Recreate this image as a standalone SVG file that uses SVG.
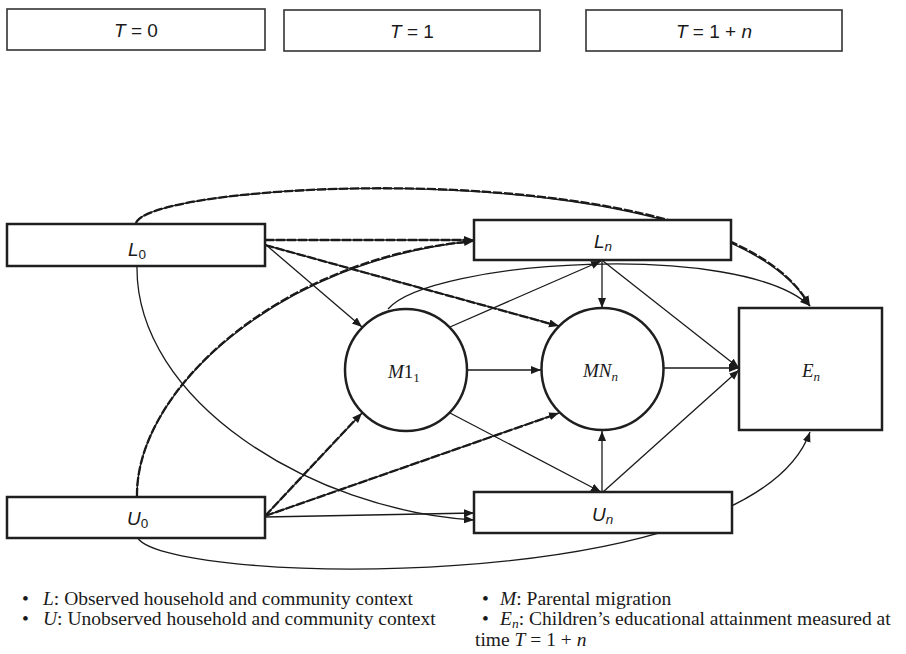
<svg xmlns="http://www.w3.org/2000/svg" width="906" height="654" viewBox="0 0 906 654">
<defs>
<marker id="ah" markerUnits="userSpaceOnUse" markerWidth="11" markerHeight="9" refX="10" refY="4" orient="auto">
<path d="M0,0 L10,4 L0,8 z" fill="#1a1a1a"/>
</marker>
<style>
.box{fill:#fff;stroke:#1f1f1f;stroke-width:2.5}
.tbox{fill:#fff;stroke:#333;stroke-width:1.6}
.circ{fill:#fff;stroke:#1f1f1f;stroke-width:2.5}
.ln{fill:none;stroke:#1a1a1a;stroke-width:1.3}
.dl{fill:none;stroke:#1a1a1a;stroke-width:1.4}
.dd{fill:none;stroke:#1a1a1a;stroke-width:2.3;stroke-dasharray:9 2}
.sans{font-family:"Liberation Sans",Arial,sans-serif;font-size:19px;fill:#1a1a1a}
.serif{font-family:"Liberation Serif","Times New Roman",serif;font-size:19px;fill:#1a1a1a}
.leg{font-family:"Liberation Serif","Times New Roman",serif;font-size:19.5px;fill:#1a1a1a}
.it{font-style:italic}
</style>
</defs>

<g id="time-headers">
<g id="t0"><rect class="tbox" x="7" y="9" width="258" height="41"/><text class="sans" x="136" y="37" text-anchor="middle"><tspan class="it">T</tspan> = 0</text></g>
<g id="t1"><rect class="tbox" x="284" y="10" width="256" height="41"/><text class="sans" x="412" y="38" text-anchor="middle"><tspan class="it">T</tspan> = 1</text></g>
<g id="t1n"><rect class="tbox" x="586" y="10" width="256" height="41"/><text class="sans" x="714" y="38" text-anchor="middle"><tspan class="it">T</tspan> = 1 + <tspan class="it">n</tspan></text></g>
</g>

<g id="connectors">
<path class="dl" d="M136,223 C150,180 720,150 810,306" marker-end="url(#ah)"/>
<path class="dd" d="M136,223 C150,180 720,150 808,303"/>
<path class="dl" d="M265,240 L474,240" marker-end="url(#ah)"/>
<path class="dd" d="M265,240 L466,240"/>
<path class="dl" d="M265,245 L559,326" marker-end="url(#ah)"/>
<path class="dd" d="M265,245 L551,324"/>
<path class="dl" d="M137,497 C135,390 280,260 474,241" marker-end="url(#ah)"/>
<path class="dd" d="M137,497 C135,390 280,260 466,242"/>
<path class="dl" d="M265,516 L362,413" marker-end="url(#ah)"/>
<path class="dd" d="M265,516 L356,419"/>
<path class="dl" d="M265,516 L559,413" marker-end="url(#ah)"/>
<path class="dd" d="M265,516 L551,416"/>

<path class="ln" d="M265,244 L362,327" marker-end="url(#ah)"/>
<path class="ln" d="M265,517 L474,513" marker-end="url(#ah)"/>
<path class="ln" d="M137,266 C135,400 310,510 474,520" marker-end="url(#ah)"/>
<path class="ln" d="M467,370 L541,370" marker-end="url(#ah)"/>
<path class="ln" d="M664,368 L739,368" marker-end="url(#ah)"/>
<path class="ln" d="M602,261 L602,308" marker-end="url(#ah)"/>
<path class="ln" d="M602,492 L602,431" marker-end="url(#ah)"/>
<path class="ln" d="M450,327 L601,261" marker-end="url(#ah)"/>
<path class="ln" d="M450,413 L601,492" marker-end="url(#ah)"/>
<path class="ln" d="M603,261 L739,368" marker-end="url(#ah)"/>
<path class="ln" d="M603,492 L739,370" marker-end="url(#ah)"/>
<path class="ln" d="M388,309 C430,260 740,240 810,306" marker-end="url(#ah)"/>
<path class="ln" d="M137,536 C150,585 750,600 810,432" marker-end="url(#ah)"/>
</g>

<g id="L0"><rect class="box" x="7" y="224" width="258" height="42"/><text class="sans" x="128" y="256"><tspan class="it">L</tspan><tspan font-size="13.5" dy="3">0</tspan></text></g>
<g id="Ln"><rect class="box" x="474" y="220" width="257" height="40"/><text class="sans" x="594" y="248"><tspan class="it">L</tspan><tspan class="it" font-size="13.5" dy="3">n</tspan></text></g>
<g id="U0"><rect class="box" x="7" y="497" width="258" height="41"/><text class="sans" x="127" y="525"><tspan class="it">U</tspan><tspan font-size="13.5" dy="3">0</tspan></text></g>
<g id="Un"><rect class="box" x="474" y="492" width="258" height="41"/><text class="sans" x="592" y="521"><tspan class="it">U</tspan><tspan class="it" font-size="13.5" dy="3">n</tspan></text></g>
<g id="M11"><circle class="circ" cx="406" cy="370" r="61"/><text class="serif" x="388" y="378"><tspan class="it">M</tspan>1<tspan font-size="13" dy="4">1</tspan></text></g>
<g id="MNn"><circle class="circ" cx="602.5" cy="369" r="61"/><text class="serif" x="583" y="377"><tspan class="it">MN</tspan><tspan class="it" font-size="13" dy="4">n</tspan></text></g>
<g id="En"><rect class="box" x="739" y="308" width="143" height="122"/><text class="serif" x="802" y="377"><tspan class="it">E</tspan><tspan class="it" font-size="13" dy="4">n</tspan></text></g>

<g id="legend">
<text class="leg" x="22" y="605">•</text>
<text class="leg" x="43" y="605"><tspan class="it">L</tspan>: Observed household and community context</text>
<text class="leg" x="22" y="625">•</text>
<text class="leg" x="43" y="625"><tspan class="it">U</tspan>: Unobserved household and community context</text>
<text class="leg" x="482" y="605">•</text>
<text class="leg" x="500" y="605"><tspan class="it">M</tspan>: Parental migration</text>
<text class="leg" x="482" y="625">•</text>
<text class="leg" x="500" y="625"><tspan class="it">E</tspan><tspan class="it" font-size="13.5" dy="3">n</tspan><tspan dy="-3">: Children’s educational attainment measured at</tspan></text>
<text class="leg" x="475" y="646">time <tspan class="it">T</tspan> = 1 + <tspan class="it">n</tspan></text>
</g>
</svg>
